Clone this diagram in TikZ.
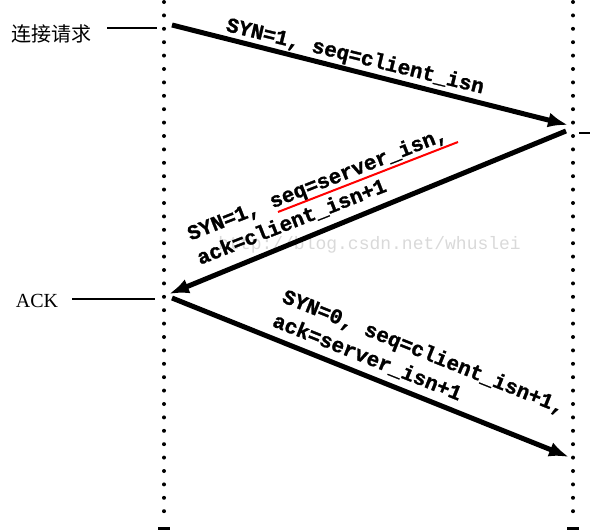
\documentclass[tikz,border=0pt]{standalone}
\usepackage{fontspec}
\setmainfont{Liberation Serif}
\setmonofont[BoldFeatures={FakeBold=1.2}]{Liberation Mono}
\newfontfamily\cjk{Noto Sans CJK SC}
\usetikzlibrary{arrows.meta}
\begin{document}
\begin{tikzpicture}[x=1pt,y=-1pt,
  lifeline/.style={line width=4pt, line cap=round, dash pattern=on 0pt off 13.4pt},
  msg/.style={line width=5pt, -{Latex[length=20pt,width=15pt]}},
  tickline/.style={line width=2pt},
  lbl/.style={font=\ttfamily\bfseries\fontsize{21}{26}\selectfont, inner sep=0pt, align=left},
  side/.style={inner sep=0pt},
  foot/.style={fill=black}]
\useasboundingbox (0,0) rectangle (590,530);
% watermark
\node[font=\ttfamily\fontsize{18}{20}\selectfont, text=gray!30, anchor=base east, inner sep=0pt] (wm) at (521,249) {http://blog.csdn.net/whuslei};
% lifelines
\coordinate (ltop) at (164,2); \coordinate (lbot) at (164,522);
\coordinate (rtop) at (573,2); \coordinate (rbot) at (573,522);
\draw[lifeline] (ltop) -- (lbot);
\draw[lifeline] (rtop) -- (rbot);
\fill[foot] (158,527) rectangle (170,531);
\fill[foot] (567,527) rectangle (579,531);
% side labels
\node[side, font=\cjk\fontsize{20}{24}\selectfont] (req) at (52,34) {连接请求};
\node[side, font=\fontsize{20}{24}\selectfont] (ack) at (37,301) {ACK};
\coordinate (t1a) at (107,28); \coordinate (t1b) at (157,28);
\coordinate (t2a) at (72,299); \coordinate (t2b) at (155,299);
\coordinate (t3a) at (579,133); \coordinate (t3b) at (590,133);
\draw[tickline] (t1a) -- (t1b);
\draw[tickline] (t2a) -- (t2b);
\draw[tickline] (t3a) -- (t3b);
% messages
\coordinate (a1s) at (172,25); \coordinate (a1e) at (568,125);
\coordinate (a2s) at (566,131); \coordinate (a2e) at (169,294);
\coordinate (a3s) at (172,298); \coordinate (a3e) at (569,457);
\draw[msg] (a1s) -- (a1e);
\draw[msg] (a2s) -- (a2e);
\draw[msg] (a3s) -- (a3e);
% labels
\node[lbl, rotate=-13.7] (l1) at (355,57) {SYN=1, seq=client\_isn};
\node[lbl, rotate=21.5] (l2) at (322,196) {SYN=1, seq=server\_isn,\\ack=client\_isn+1};
\node[lbl, rotate=-21.8] (l3) at (419,364) {SYN=0, seq=client\_isn+1,\\ack=server\_isn+1};
% red underline
\coordinate (u1) at (278,212); \coordinate (u2) at (458,142);
\draw[red, line width=2pt] (u1) -- (u2);
\end{tikzpicture}
\end{document}
